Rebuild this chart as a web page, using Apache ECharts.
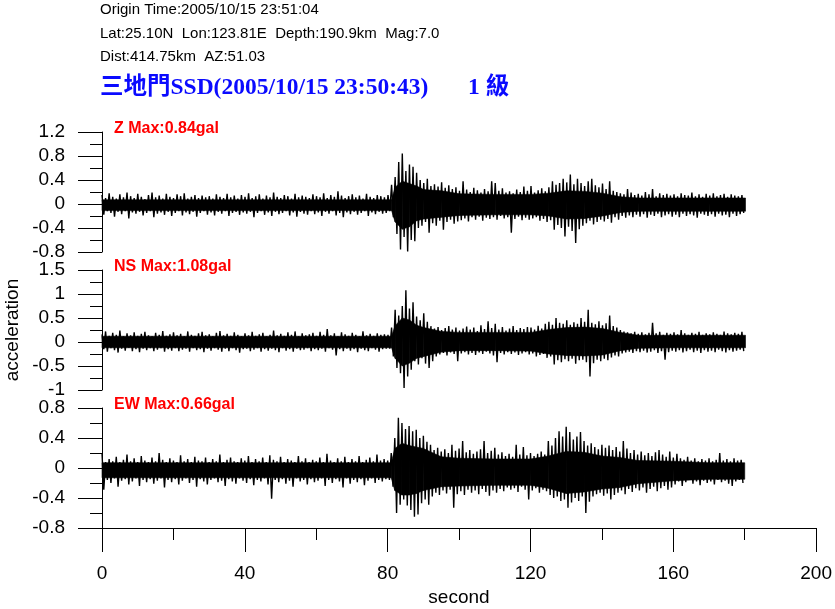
<!DOCTYPE html>
<html><head><meta charset="utf-8">
<script src="https://cdn.jsdelivr.net/npm/echarts@6/dist/echarts.min.js"></script>
<style>html,body{margin:0;padding:0;background:#fff}#c{width:835px;height:609px}</style>
</head><body><div id="c"></div><script>
const headerLines = [
  'Origin Time:2005/10/15 23:51:04',
  'Lat:25.10N  Lon:123.81E  Depth:190.9km  Mag:7.0',
  'Dist:414.75km  AZ:51.03'
];
const stationTitle = '三地門SSD(2005/10/15 23:50:43)';
const intensityText = '1 級';
const panelLabels = ['Z Max:0.84gal', 'NS Max:1.08gal', 'EW Max:0.66gal'];
const yAxisName = 'acceleration';
const xAxisName = 'second';
const yMins = [-0.8, -1, -0.8];
const yMaxs = [1.2, 1.5, 0.8];
const yIntervals = [0.4, 0.5, 0.4];
const xMin = 0, xMax = 200, xInterval = 40;
const binSeconds = 1;

// per-second peak (max) and trough (min) of each component
const zMax = [
0.15,0.10,0.18,0.12,0.09,0.16,0.11,0.19,0.13,0.10,
0.17,0.12,0.08,0.15,0.19,0.11,0.14,0.09,0.17,0.12,
0.10,0.16,0.13,0.18,0.09,0.12,0.15,0.10,0.14,0.11,
0.13,0.09,0.16,0.12,0.10,0.17,0.11,0.14,0.09,0.15,
0.12,0.18,0.10,0.13,0.16,0.09,0.14,0.11,0.19,0.12,
0.10,0.15,0.13,0.09,0.17,0.11,0.14,0.12,0.10,0.16,
0.13,0.11,0.18,0.10,0.15,0.12,0.21,0.14,0.10,0.13,
0.16,0.11,0.14,0.09,0.17,0.12,0.10,0.15,0.13,0.11,
0.15,0.32,0.45,0.70,0.84,0.55,0.66,0.62,0.52,0.40,
0.35,0.42,0.30,0.33,0.29,0.36,0.27,0.31,0.25,0.28,
0.22,0.38,0.24,0.20,0.27,0.23,0.19,0.25,0.21,0.38,
0.35,0.22,0.26,0.19,0.21,0.18,0.24,0.20,0.29,0.22,
0.30,0.19,0.23,0.26,0.21,0.28,0.38,0.32,0.35,0.42,
0.36,0.49,0.33,0.42,0.35,0.30,0.38,0.42,0.31,0.28,
0.34,0.25,0.38,0.22,0.20,0.18,0.16,0.25,0.19,0.15,
0.17,0.14,0.20,0.16,0.25,0.13,0.18,0.15,0.17,0.14,
0.16,0.13,0.18,0.15,0.14,0.19,0.13,0.16,0.12,0.17,
0.14,0.18,0.13,0.15,0.17,0.12,0.16,0.14,0.13,0.15];
const zMin = [
-0.18,-0.12,-0.15,-0.21,-0.13,-0.17,-0.12,-0.24,-0.14,-0.16,
-0.13,-0.19,-0.15,-0.12,-0.22,-0.16,-0.14,-0.18,-0.13,-0.20,
-0.15,-0.12,-0.19,-0.14,-0.17,-0.13,-0.21,-0.15,-0.12,-0.18,
-0.14,-0.19,-0.13,-0.16,-0.12,-0.20,-0.15,-0.13,-0.18,-0.14,
-0.16,-0.13,-0.22,-0.15,-0.12,-0.18,-0.14,-0.20,-0.13,-0.17,
-0.15,-0.12,-0.19,-0.14,-0.21,-0.13,-0.16,-0.18,-0.12,-0.17,
-0.14,-0.20,-0.13,-0.16,-0.12,-0.19,-0.15,-0.22,-0.14,-0.17,
-0.13,-0.18,-0.15,-0.12,-0.20,-0.14,-0.17,-0.13,-0.16,-0.15,
-0.12,-0.22,-0.50,-0.76,-0.55,-0.79,-0.60,-0.62,-0.40,-0.36,
-0.30,-0.48,-0.32,-0.36,-0.28,-0.43,-0.30,-0.26,-0.33,-0.29,
-0.27,-0.24,-0.29,-0.22,-0.26,-0.21,-0.28,-0.23,-0.25,-0.22,
-0.26,-0.20,-0.24,-0.22,-0.48,-0.25,-0.21,-0.27,-0.23,-0.26,
-0.24,-0.22,-0.28,-0.25,-0.30,-0.27,-0.43,-0.35,-0.40,-0.54,
-0.38,-0.45,-0.65,-0.42,-0.36,-0.32,-0.28,-0.34,-0.30,-0.26,
-0.29,-0.25,-0.31,-0.22,-0.26,-0.20,-0.23,-0.19,-0.22,-0.18,
-0.21,-0.17,-0.23,-0.18,-0.20,-0.16,-0.22,-0.19,-0.17,-0.21,
-0.18,-0.22,-0.16,-0.20,-0.17,-0.19,-0.23,-0.16,-0.18,-0.20,
-0.17,-0.21,-0.16,-0.19,-0.18,-0.22,-0.16,-0.20,-0.17,-0.15];
const nsMax = [
0.16,0.22,0.13,0.19,0.15,0.24,0.12,0.18,0.14,0.20,
0.13,0.17,0.21,0.14,0.12,0.19,0.15,0.23,0.13,0.16,
0.20,0.14,0.17,0.12,0.22,0.15,0.13,0.18,0.21,0.14,
0.16,0.12,0.19,0.23,0.14,0.17,0.13,0.20,0.15,0.12,
0.18,0.14,0.21,0.13,0.16,0.19,0.12,0.15,0.24,0.14,
0.17,0.13,0.20,0.15,0.22,0.12,0.18,0.14,0.16,0.19,
0.13,0.21,0.15,0.27,0.14,0.18,0.12,0.20,0.16,0.13,
0.19,0.15,0.12,0.22,0.14,0.17,0.13,0.18,0.15,0.16,
0.15,0.30,0.67,0.55,0.75,1.08,0.70,0.83,0.53,0.45,
0.60,0.42,0.33,0.28,0.31,0.25,0.29,0.33,0.26,0.30,
0.24,0.28,0.32,0.26,0.30,0.23,0.35,0.27,0.43,0.29,
0.38,0.26,0.31,0.24,0.28,0.33,0.25,0.29,0.27,0.31,
0.30,0.26,0.34,0.28,0.38,0.42,0.36,0.50,0.40,0.38,
0.45,0.36,0.41,0.38,0.50,0.42,0.67,0.40,0.37,0.43,
0.35,0.39,0.55,0.33,0.30,0.25,0.22,0.20,0.18,0.21,
0.17,0.20,0.16,0.19,0.40,0.18,0.21,0.15,0.19,0.17,
0.20,0.16,0.25,0.18,0.15,0.19,0.17,0.21,0.15,0.18,
0.16,0.20,0.17,0.15,0.22,0.18,0.16,0.19,0.17,0.21];
const nsMin = [
-0.15,-0.20,-0.13,-0.17,-0.22,-0.14,-0.18,-0.12,-0.19,-0.15,
-0.21,-0.14,-0.17,-0.13,-0.19,-0.16,-0.13,-0.20,-0.15,-0.18,
-0.13,-0.19,-0.16,-0.14,-0.20,-0.13,-0.17,-0.15,-0.21,-0.14,
-0.18,-0.13,-0.16,-0.20,-0.14,-0.19,-0.13,-0.17,-0.22,-0.15,
-0.14,-0.19,-0.16,-0.13,-0.20,-0.15,-0.18,-0.14,-0.17,-0.21,
-0.13,-0.18,-0.15,-0.20,-0.14,-0.17,-0.16,-0.13,-0.19,-0.15,
-0.17,-0.14,-0.20,-0.13,-0.16,-0.28,-0.15,-0.19,-0.14,-0.18,
-0.15,-0.21,-0.14,-0.17,-0.19,-0.13,-0.16,-0.20,-0.15,-0.14,
-0.14,-0.30,-0.54,-0.65,-0.96,-0.72,-0.58,-0.40,-0.47,-0.34,
-0.45,-0.54,-0.40,-0.30,-0.26,-0.23,-0.28,-0.22,-0.25,-0.40,
-0.24,-0.21,-0.26,-0.23,-0.27,-0.22,-0.25,-0.20,-0.24,-0.28,
-0.42,-0.23,-0.26,-0.21,-0.25,-0.22,-0.27,-0.24,-0.21,-0.26,
-0.24,-0.30,-0.27,-0.25,-0.33,-0.30,-0.47,-0.38,-0.42,-0.36,
-0.40,-0.35,-0.45,-0.38,-0.37,-0.42,-0.72,-0.44,-0.37,-0.40,
-0.35,-0.38,-0.32,-0.28,-0.30,-0.24,-0.22,-0.20,-0.23,-0.19,
-0.21,-0.18,-0.22,-0.20,-0.17,-0.23,-0.19,-0.37,-0.21,-0.18,
-0.20,-0.17,-0.22,-0.19,-0.16,-0.21,-0.18,-0.23,-0.17,-0.20,
-0.18,-0.21,-0.16,-0.19,-0.22,-0.17,-0.20,-0.18,-0.16,-0.19];
const ewMax = [
0.20,0.08,0.12,0.09,0.15,0.08,0.11,0.18,0.09,0.13,
0.08,0.16,0.10,0.08,0.14,0.09,0.20,0.11,0.08,0.13,
0.10,0.08,0.17,0.09,0.12,0.08,0.15,0.10,0.09,0.14,
0.08,0.12,0.09,0.18,0.08,0.11,0.14,0.09,0.08,0.13,
0.10,0.16,0.08,0.12,0.09,0.14,0.08,0.17,0.11,0.09,
0.15,0.08,0.12,0.10,0.08,0.16,0.09,0.13,0.08,0.11,
0.09,0.14,0.08,0.19,0.10,0.08,0.13,0.09,0.15,0.08,
0.12,0.09,0.16,0.08,0.11,0.14,0.09,0.18,0.10,0.12,
0.10,0.20,0.40,0.67,0.60,0.52,0.56,0.49,0.51,0.40,
0.43,0.35,0.31,0.24,0.27,0.22,0.25,0.20,0.31,0.23,
0.26,0.36,0.21,0.24,0.19,0.22,0.25,0.36,0.20,0.23,
0.27,0.18,0.21,0.16,0.19,0.15,0.31,0.18,0.28,0.17,
0.20,0.16,0.19,0.22,0.18,0.36,0.30,0.40,0.49,0.42,
0.55,0.48,0.38,0.42,0.48,0.36,0.30,0.33,0.28,0.25,
0.31,0.27,0.30,0.24,0.28,0.22,0.36,0.26,0.20,0.24,
0.18,0.22,0.17,0.20,0.16,0.21,0.24,0.18,0.15,0.22,
0.14,0.19,0.13,0.11,0.15,0.10,0.13,0.09,0.12,0.10,
0.13,0.09,0.11,0.20,0.10,0.12,0.09,0.13,0.10,0.11];
const ewMin = [
-0.29,-0.16,-0.20,-0.14,-0.25,-0.17,-0.15,-0.22,-0.18,-0.14,
-0.24,-0.16,-0.19,-0.15,-0.21,-0.17,-0.14,-0.26,-0.16,-0.19,
-0.15,-0.22,-0.17,-0.14,-0.20,-0.16,-0.25,-0.15,-0.18,-0.22,
-0.16,-0.14,-0.19,-0.17,-0.24,-0.15,-0.18,-0.21,-0.14,-0.17,
-0.20,-0.15,-0.23,-0.16,-0.18,-0.14,-0.22,-0.41,-0.16,-0.19,
-0.15,-0.21,-0.17,-0.25,-0.14,-0.18,-0.16,-0.22,-0.15,-0.19,
-0.17,-0.14,-0.24,-0.16,-0.20,-0.15,-0.18,-0.26,-0.14,-0.21,
-0.16,-0.19,-0.15,-0.23,-0.17,-0.14,-0.20,-0.16,-0.18,-0.15,
-0.16,-0.25,-0.60,-0.49,-0.42,-0.50,-0.56,-0.65,-0.62,-0.47,
-0.42,-0.49,-0.38,-0.33,-0.36,-0.30,-0.34,-0.29,-0.53,-0.35,
-0.31,-0.36,-0.29,-0.33,-0.30,-0.35,-0.28,-0.32,-0.37,-0.30,
-0.33,-0.28,-0.31,-0.26,-0.29,-0.27,-0.32,-0.25,-0.29,-0.42,
-0.30,-0.27,-0.33,-0.29,-0.31,-0.36,-0.40,-0.38,-0.44,-0.42,
-0.53,-0.46,-0.40,-0.44,-0.38,-0.60,-0.45,-0.38,-0.35,-0.33,
-0.37,-0.34,-0.42,-0.36,-0.33,-0.30,-0.35,-0.28,-0.32,-0.27,
-0.30,-0.26,-0.33,-0.28,-0.25,-0.31,-0.27,-0.24,-0.29,-0.26,
-0.22,-0.18,-0.24,-0.19,-0.16,-0.21,-0.18,-0.23,-0.17,-0.20,
-0.18,-0.22,-0.16,-0.19,-0.17,-0.21,-0.24,-0.18,-0.16,-0.20];

// dense (solid) core band of each trace, read at these times
const coreTimes = [0, 81, 82, 84, 86, 88, 90, 95, 100, 110, 120, 125, 130, 135, 140, 145, 150, 160, 170, 180];
const zCoreTop = [0.07, 0.07, 0.28, 0.38, 0.34, 0.30, 0.24, 0.22, 0.17, 0.16, 0.16, 0.18, 0.22, 0.21, 0.18, 0.12, 0.10, 0.10, 0.10, 0.10];
const zCoreBot = [-0.11, -0.11, -0.30, -0.42, -0.38, -0.28, -0.25, -0.22, -0.19, -0.18, -0.18, -0.20, -0.25, -0.24, -0.20, -0.14, -0.12, -0.12, -0.12, -0.12];
const nsCoreTop = [0.12, 0.12, 0.34, 0.50, 0.46, 0.35, 0.30, 0.22, 0.20, 0.20, 0.20, 0.26, 0.30, 0.31, 0.28, 0.20, 0.14, 0.14, 0.14, 0.14];
const nsCoreBot = [-0.12, -0.12, -0.34, -0.50, -0.44, -0.34, -0.30, -0.21, -0.18, -0.18, -0.19, -0.25, -0.28, -0.29, -0.27, -0.18, -0.13, -0.12, -0.12, -0.12];
const ewCoreTop = [0.07, 0.07, 0.26, 0.33, 0.30, 0.28, 0.26, 0.15, 0.13, 0.12, 0.12, 0.16, 0.22, 0.21, 0.16, 0.14, 0.10, 0.09, 0.07, 0.07];
const ewCoreBot = [-0.13, -0.13, -0.30, -0.36, -0.36, -0.34, -0.30, -0.25, -0.24, -0.23, -0.23, -0.27, -0.34, -0.32, -0.28, -0.26, -0.21, -0.17, -0.15, -0.15];

const traces = [[zMax, zMin], [nsMax, nsMin], [ewMax, ewMin]];
const cores = [[zCoreTop, zCoreBot], [nsCoreTop, nsCoreBot], [ewCoreTop, ewCoreBot]];

function zigzag(maxArr, minArr) {
  const out = [];
  for (let i = 0; i < maxArr.length; i++) {
    out.push([i * binSeconds, maxArr[i]]);
    out.push([(i + 0.5) * binSeconds, minArr[i]]);
  }
  return out;
}
function coreSegments(top, bot) {
  const out = [];
  for (let i = 0; i < coreTimes.length - 1; i++) {
    out.push([coreTimes[i], top[i], bot[i], coreTimes[i + 1], top[i + 1], bot[i + 1]]);
  }
  return out;
}

const FONT = '"Liberation Sans", Arial, sans-serif';
const gridTops = [132, 270, 408];
const grids = gridTops.map(t => ({ left: 102, right: 18, top: t, height: 120 }));

const xAxes = [0, 1, 2].map(i => ({
  type: 'value', gridIndex: i, min: xMin, max: xMax, interval: xInterval,
  show: i === 2,
  axisLine: { show: true, onZero: false, lineStyle: { color: '#000', width: 1 } },
  axisTick: { show: true, inside: false, length: 24, lineStyle: { color: '#000' } },
  minorTick: { show: true, splitNumber: 2, length: 12, lineStyle: { color: '#000' } },
  splitLine: { show: false },
  axisLabel: { margin: 36, color: '#000', fontSize: 19, fontFamily: FONT }
}));

const yAxes = [0, 1, 2].map(i => ({
  type: 'value', gridIndex: i, min: yMins[i], max: yMaxs[i], interval: yIntervals[i],
  axisLine: { show: true, onZero: false, lineStyle: { color: '#000', width: 1 } },
  axisTick: { show: true, inside: false, length: 24, lineStyle: { color: '#000' } },
  minorTick: { show: true, splitNumber: 2, length: 12, lineStyle: { color: '#000' } },
  splitLine: { show: false },
  axisLabel: { margin: 37, color: '#000', fontSize: 19, fontFamily: FONT }
}));

const series = [];
cores.forEach((c, i) => series.push({
  type: 'custom', coordinateSystem: 'cartesian2d', xAxisIndex: i, yAxisIndex: i,
  data: coreSegments(c[0], c[1]),
  encode: { x: [0, 3], y: [1, 2, 4, 5] },
  silent: true, animation: false,
  renderItem: function (params, api) {
    const p = [
      api.coord([api.value(0), api.value(1)]),
      api.coord([api.value(3), api.value(4)]),
      api.coord([api.value(3), api.value(5)]),
      api.coord([api.value(0), api.value(2)])
    ];
    return { type: 'polygon', shape: { points: p }, style: { fill: '#000', stroke: '#000', lineWidth: 0.6 } };
  }
}));
traces.forEach((tr, i) => series.push({
  type: 'line', xAxisIndex: i, yAxisIndex: i,
  data: zigzag(tr[0], tr[1]),
  showSymbol: false, symbol: 'none', smooth: false,
  lineStyle: { color: '#000', width: 1.4 },
  silent: true, animation: false
}));

const headerY = [10, 34, 57];
const graphics = [];
headerLines.forEach((t, i) => graphics.push({
  type: 'text', x: 100, y: headerY[i],
  style: { text: t, font: '15px ' + FONT, fill: '#000', verticalAlign: 'middle' }
}));
const titleFont = 'bold 23.5px "Liberation Serif", "Noto Sans CJK TC", serif';
graphics.push({
  type: 'text', x: 100, y: 88,
  style: { text: stationTitle, font: titleFont, fill: '#0a0aff', verticalAlign: 'middle' }
});
graphics.push({
  type: 'text', x: 468, y: 88,
  style: { text: intensityText, font: titleFont, fill: '#0a0aff', verticalAlign: 'middle' }
});
const labelY = [129, 267, 405];
panelLabels.forEach((t, i) => graphics.push({
  type: 'text', x: 114, y: labelY[i],
  style: { text: t, font: 'bold 16px ' + FONT, fill: '#ff0000', verticalAlign: 'middle' }
}));
graphics.push({
  type: 'text', x: 13, y: 330, rotation: Math.PI / 2,
  style: { text: yAxisName, font: '19px ' + FONT, fill: '#000', align: 'center', verticalAlign: 'middle' }
});
graphics.push({
  type: 'text', x: 459, y: 598,
  style: { text: xAxisName, font: '19px ' + FONT, fill: '#000', align: 'center', verticalAlign: 'middle' }
});

const chart = echarts.init(document.getElementById('c'), null, { renderer: 'canvas' });
chart.setOption({
  animation: false,
  backgroundColor: '#fff',
  grid: grids,
  xAxis: xAxes,
  yAxis: yAxes,
  series: series,
  graphic: graphics
});
</script></body></html>
